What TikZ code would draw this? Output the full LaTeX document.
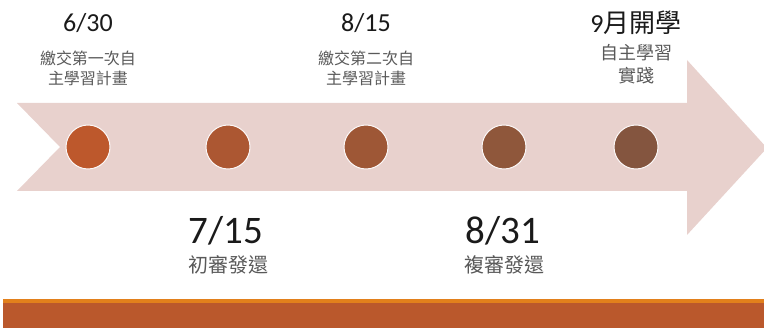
\documentclass[tikz,border=0pt]{standalone}
\usepackage{fontspec}
\setmainfont{Carlito}
\newfontfamily\cjk{Noto Sans CJK TC}
\definecolor{arrowfill}{HTML}{E8D1CD}
\definecolor{cA}{HTML}{BD582C}
\definecolor{cB}{HTML}{AC5732}
\definecolor{cC}{HTML}{9E5736}
\definecolor{cD}{HTML}{8F573B}
\definecolor{cE}{HTML}{84553F}
\definecolor{barorange}{HTML}{E2801C}
\definecolor{barmain}{HTML}{BA582C}
\definecolor{notegray}{HTML}{595959}
\definecolor{datecol}{HTML}{1A1A1A}
\begin{document}
\begin{tikzpicture}[x=1pt,y=-1pt,
  dot/.style={circle,draw=white!85!arrowfill,line width=1pt,minimum size=44pt,inner sep=0pt},
  datesmall/.style={anchor=base,inner sep=0pt,text=datecol,font=\fontsize{26}{26}\selectfont},
  datebig/.style={anchor=base,inner sep=0pt,text=datecol,font=\fontsize{39}{39}\selectfont},
  note/.style={anchor=base,inner sep=0pt,text=notegray,font=\cjk\fontsize{16}{16}\selectfont},
  notemid/.style={anchor=base,inner sep=0pt,text=notegray,font=\cjk\fontsize{18}{18}\selectfont},
  notebig/.style={anchor=base,inner sep=0pt,text=notegray,font=\cjk\fontsize{20}{20}\selectfont},
]
\useasboundingbox (0,0) rectangle (764,328);
% timeline arrow
\fill[arrowfill] (17,103) -- (687,103) -- (687,60) -- (767,148) -- (687,235) -- (687,191) -- (17,191) -- (60,147) -- cycle;
% bottom bar
\fill[barorange] (3,299) rectangle (764,303);
\fill[barmain] (3,303) rectangle (764,328);
% dots
\node[dot,fill=cA] (c1) at (88,147) {};
\node[dot,fill=cB] (c2) at (228,147) {};
\node[dot,fill=cC] (c3) at (366,147) {};
\node[dot,fill=cD] (c4) at (504,147) {};
\node[dot,fill=cE] (c5) at (636,147) {};
% labels above
\node[datesmall] (d1) at (88,32) {6/30};
\node[note] (n1a) at (88,65) {繳交第一次自};
\node[note] (n1b) at (88,85) {主學習計畫};
\node[datesmall] (d3) at (366,32) {8/15};
\node[note] (n3a) at (366,65) {繳交第二次自};
\node[note] (n3b) at (366,85) {主學習計畫};
\node[datesmall] (d5) at (636,33) {9{\cjk 月開學}};
\node[notemid] (n5a) at (636,60) {自主學習};
\node[notemid] (n5b) at (636,83) {實踐};
% labels below
\node[datebig] (d2) at (226,244) {7/15};
\node[notebig] (n2) at (228,273) {初審發還};
\node[datebig] (d4) at (503,244) {8/31};
\node[notebig] (n4) at (504,273) {複審發還};
\end{tikzpicture}
\end{document}
